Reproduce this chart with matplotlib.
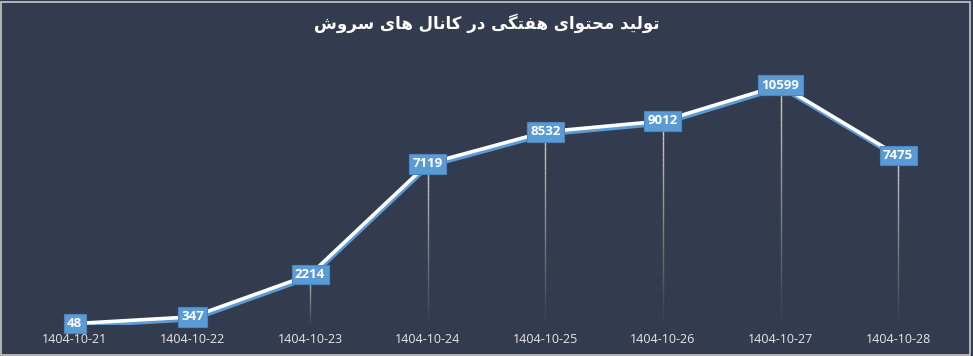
import matplotlib
matplotlib.use("Agg")
import matplotlib.pyplot as plt
import matplotlib.patheffects as pe
from matplotlib.patches import Rectangle
import numpy as np

# data
dates = ['1404-10-21', '1404-10-22', '1404-10-23', '1404-10-24',
         '1404-10-25', '1404-10-26', '1404-10-27', '1404-10-28']
counts = [48, 347, 2214, 7119, 8532, 9012, 10599, 7475]
title = 'تولید محتوای هفتگی در کانال های سروش'

BG = '#333c4e'
BLUE = '#5b9bd5'

# simple persian shaping (isolated, final, initial, medial)
FORMS = {
    'ا': ('\uFE8D', '\uFE8E', None, None),
    'د': ('\uFEA9', '\uFEAA', None, None),
    'ر': ('\uFEAD', '\uFEAE', None, None),
    'و': ('\uFEED', '\uFEEE', None, None),
    'ت': ('\uFE95', '\uFE96', '\uFE97', '\uFE98'),
    'ل': ('\uFEDD', '\uFEDE', '\uFEDF', '\uFEE0'),
    'م': ('\uFEE1', '\uFEE2', '\uFEE3', '\uFEE4'),
    'ح': ('\uFEA1', '\uFEA2', '\uFEA3', '\uFEA4'),
    'ه': ('\uFEE9', '\uFEEA', '\uFEEB', '\uFEEC'),
    'ف': ('\uFED1', '\uFED2', '\uFED3', '\uFED4'),
    'ن': ('\uFEE5', '\uFEE6', '\uFEE7', '\uFEE8'),
    'س': ('\uFEB1', '\uFEB2', '\uFEB3', '\uFEB4'),
    'ش': ('\uFEB5', '\uFEB6', '\uFEB7', '\uFEB8'),
    'ی': ('\uFBFC', '\uFBFD', '\uFBFE', '\uFBFF'),
    'گ': ('\uFB92', '\uFB93', '\uFB94', '\uFB95'),
    'ک': ('\uFB8E', '\uFB8F', '\uFB90', '\uFB91'),
}


def shape(text):
    out = []
    for i, ch in enumerate(text):
        if ch not in FORMS:
            out.append(ch)
            continue
        prev = text[i - 1] if i > 0 else ' '
        nxt = text[i + 1] if i + 1 < len(text) else ' '
        jp = prev in FORMS and FORMS[prev][2] is not None
        jn = FORMS[ch][2] is not None and nxt in FORMS
        f = FORMS[ch]
        if jp and jn:
            out.append(f[3])
        elif jp:
            out.append(f[1])
        elif jn:
            out.append(f[2])
        else:
            out.append(f[0])
    return ''.join(out)[::-1]


fig = plt.figure(figsize=(9.73, 3.56), dpi=100, facecolor=BG)
ax = fig.add_axes([0.0165, 0.088, 0.967, 0.762])
ax.set_facecolor(BG)
x = np.arange(len(dates))

# fading drop lines
nseg = 40
for xi, yi in zip(x, counts):
    ys = np.linspace(yi, 0, nseg + 1)
    for k in range(nseg):
        ax.plot([xi, xi], [ys[k], ys[k + 1]], color='#e8e8e8', lw=1.0,
                alpha=0.9 * (1 - k / nseg) ** 1.1, solid_capstyle='butt', zorder=2)

ax.plot(x, counts, color='white', lw=2.6, zorder=3,
        path_effects=[pe.SimpleLineShadow(offset=(0.5, -2), shadow_color=BLUE, alpha=1.0),
                      pe.Normal()])

for xi, yi in zip(x, counts):
    ax.text(xi, yi, str(yi), color='white', fontsize=9.5, fontweight='bold',
            ha='center', va='center', zorder=5, family='Open Sans',
            bbox=dict(boxstyle='square,pad=0.25', fc=BLUE, ec='#4a86c0', lw=0.8))

ax.set_xlim(-0.5, len(dates) - 0.5)
ax.set_ylim(0, 12000)
ax.set_xticks(x)
ax.set_xticklabels(dates, color='#e6e6e6', fontsize=9, family='Open Sans')
ax.tick_params(axis='x', length=0, pad=6)
ax.set_yticks([])
for s in ax.spines.values():
    s.set_visible(False)

fig.text(0.5, 0.935, shape(title), color='white', fontsize=12, fontweight='bold',
         ha='center', va='center', family='DejaVu Sans')

fig.patches.append(Rectangle((0.001, 0.004), 0.996, 0.99, transform=fig.transFigure,
                             fill=False, ec='#c8c8c8', lw=1.2))

fig.savefig('out.png', dpi=100, facecolor=BG)
